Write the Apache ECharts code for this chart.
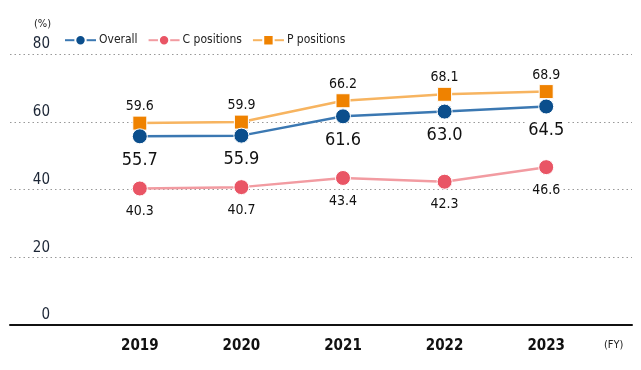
<!DOCTYPE html>
<html><head><meta charset="utf-8">
<script src="https://cdn.jsdelivr.net/npm/echarts@6/dist/echarts.min.js"></script>
<style>html,body{margin:0;padding:0;background:#fff}#c{width:641px;height:370px}</style>
</head><body><div id="c"></div>
<script>
const years = ['2019','2020','2021','2022','2023'];
const overall = [55.7, 55.9, 61.6, 63.0, 64.5];
const cPositions = [40.3, 40.7, 43.4, 42.3, 46.6];
const pPositions = [59.6, 59.9, 66.2, 68.1, 68.9];
const yTicks = [0, 20, 40, 60, 80];

const FONT = "'DejaVu Sans Condensed', 'Roboto', sans-serif";
const chart = echarts.init(document.getElementById('c'), null, {renderer: 'canvas'});
const fmt = v => v.toFixed(1);
chart.setOption({
  animation: false,
  textStyle: {fontFamily: FONT},
  grid: [
    {left: 10, right: 9, top: 54, bottom: 45},
    {left: 89, right: 44, top: 54, bottom: 45}
  ],
  legend: {
    left: 59, top: 29, itemWidth: 31, itemHeight: 13, itemGap: 10,
    textStyle: {fontFamily: FONT, fontSize: 12, color: '#222', padding: [0, 0, 0, -2]},
    data: ['Overall', 'C positions', 'P positions']
  },
  graphic: [
    {type: 'text', left: 34, top: 19, style: {text: '(%)', font: '11px ' + FONT, fill: '#222'}},
    {type: 'text', left: 604, top: 340, style: {text: '(FY)', font: '11px ' + FONT, fill: '#222'}}
  ],
  xAxis: [
    {gridIndex: 0, type: 'value', min: 0, max: 1, axisLine: {show: true, lineStyle: {color: '#111', width: 2}},
     axisTick: {show: false}, axisLabel: {show: false}, splitLine: {show: false}},
    {gridIndex: 1, type: 'category', data: years, boundaryGap: true,
     axisLine: {show: false}, axisTick: {show: false},
     axisLabel: {margin: 14, fontFamily: FONT, fontSize: 15, fontWeight: 'bold', color: '#111'}}
  ],
  yAxis: [
    {gridIndex: 0, type: 'value', min: yTicks[0], max: yTicks[yTicks.length - 1], interval: 20,
     axisLine: {show: false}, axisTick: {show: false},
     axisLabel: {inside: true, margin: 40, align: 'right', verticalAlign: 'bottom', padding: [0, 0, 2, 0],
       fontFamily: FONT, fontSize: 15, color: '#1c2636',
       formatter: v => yTicks.includes(v) ? String(v) : ''},
     splitLine: {show: true, lineStyle: {color: '#999', type: [1.5, 3], width: 1.2}}},
    {gridIndex: 1, type: 'value', min: 0, max: 80, interval: 20, show: false, splitLine: {show: false}}
  ],
  series: [
    {name: 'Overall', type: 'line', xAxisIndex: 1, yAxisIndex: 1, data: overall, z: 4,
     symbol: 'circle', symbolSize: 15, lineStyle: {color: '#3b78b2', width: 2.5},
     itemStyle: {color: '#0b4e8c', borderColor: '#fff', borderWidth: 1},
     label: {show: true, position: 'bottom', distance: 6, formatter: p => fmt(p.value),
       fontFamily: FONT, fontSize: 18, color: '#111', backgroundColor: '#fff', padding: [1, 2]}},
    {name: 'C positions', type: 'line', xAxisIndex: 1, yAxisIndex: 1, data: cPositions, z: 3,
     symbol: 'circle', symbolSize: 15, lineStyle: {color: '#f29ba1', width: 2.5},
     itemStyle: {color: '#e95565', borderColor: '#fff', borderWidth: 1},
     label: {show: true, position: 'bottom', distance: 7, formatter: p => fmt(p.value),
       fontFamily: FONT, fontSize: 14, color: '#111', backgroundColor: '#fff', padding: [1, 2]}},
    {name: 'P positions', type: 'line', xAxisIndex: 1, yAxisIndex: 1, data: pPositions, z: 3,
     symbol: 'rect', symbolSize: 14, lineStyle: {color: '#f7b460', width: 2.5},
     itemStyle: {color: '#ef8200', borderColor: '#fff', borderWidth: 1},
     label: {show: true, position: 'top', distance: 1, formatter: p => fmt(p.value),
       fontFamily: FONT, fontSize: 14, color: '#111', backgroundColor: '#fff', padding: [1, 2]}}
  ]
});
</script></body></html>
